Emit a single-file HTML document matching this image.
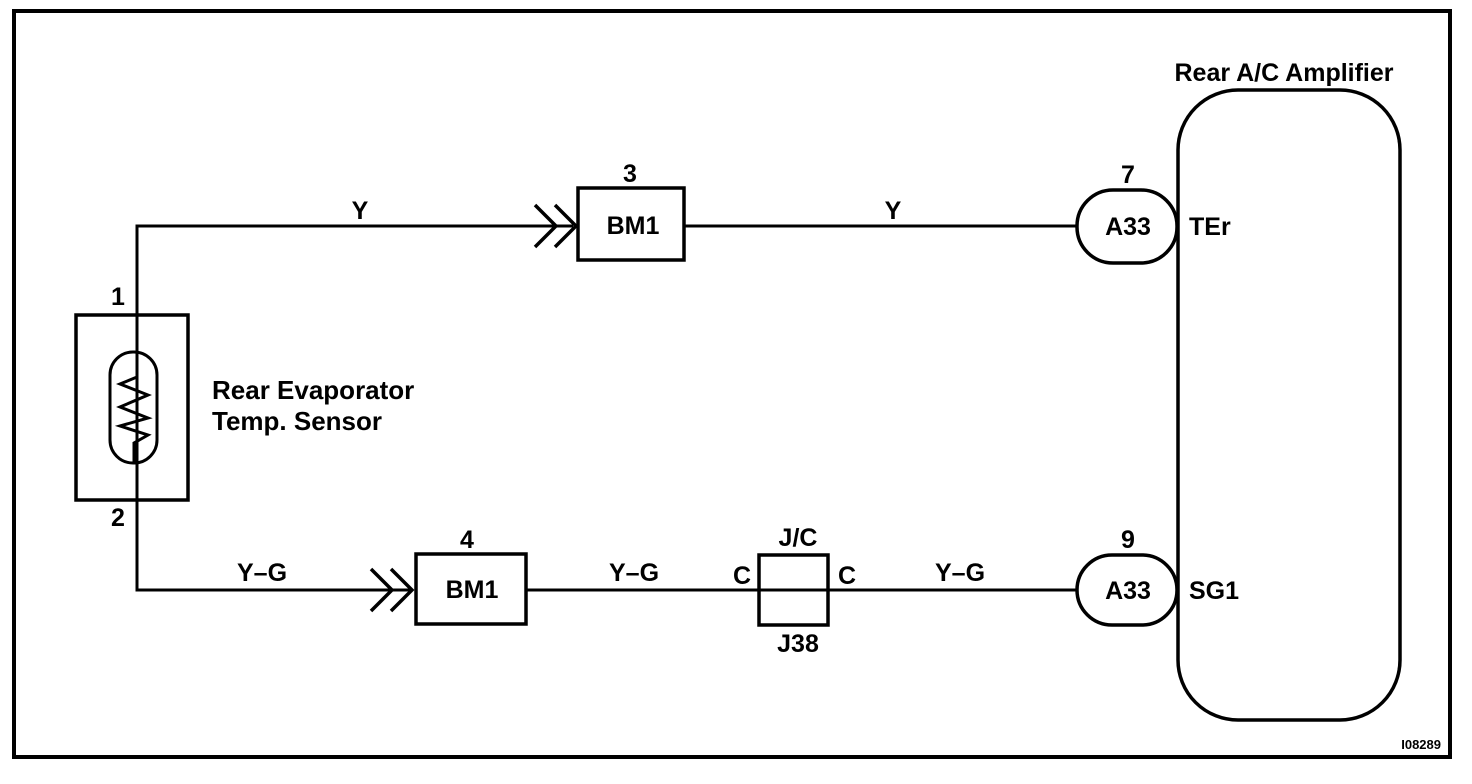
<!DOCTYPE html>
<html><head><style>
html,body{margin:0;padding:0;background:#fff;width:1472px;height:784px;overflow:hidden}
text{font-family:"Liberation Sans",Arial,sans-serif;font-weight:bold;fill:#000}
</style></head><body>
<svg width="1472" height="784" viewBox="0 0 1472 784" xmlns="http://www.w3.org/2000/svg">
<rect x="14" y="11" width="1436" height="746" fill="none" stroke="#000" stroke-width="4"/>
<g fill="none" stroke="#000" stroke-width="3">
<line x1="684" y1="226" x2="1077" y2="226"/>
<line x1="526" y1="590" x2="1077" y2="590"/>
<polyline points="573,226 137,226 137,590 410,590"/>
<g stroke-width="3.5">
<polyline points="535,205 556,226 535,247"/>
<polyline points="555,205 576,226 555,247"/>
<polyline points="371,569 392,590 371,611"/>
<polyline points="391,569 412,590 391,611"/>
</g>
<rect x="76" y="315" width="112" height="185" stroke-width="3.5"/>
<rect x="110" y="352" width="47" height="111" rx="23"/>
<polyline points="137,352 137,377 120,384 148,395 120,407 148,418 120,426 148,435 134,443 134,463"/>
<rect x="578" y="188" width="106" height="72" stroke-width="3.5"/>
<rect x="416" y="554" width="110" height="70" stroke-width="3.5"/>
<rect x="759" y="555" width="69" height="70" stroke-width="3.5"/>
<rect x="1077" y="190" width="100" height="73" rx="36" stroke-width="3.5"/>
<rect x="1077" y="555" width="100" height="70" rx="35" stroke-width="3.5"/>
<rect x="1178" y="90" width="222" height="630" rx="60" stroke-width="3.5"/>
</g>
<g font-size="25">
<text x="118" y="305" text-anchor="middle">1</text>
<text x="118" y="526" text-anchor="middle">2</text>
<text x="212" y="399" font-size="26">Rear Evaporator</text>
<text x="212" y="430" font-size="26">Temp. Sensor</text>
<text x="360" y="219" text-anchor="middle">Y</text>
<text x="893" y="219" text-anchor="middle">Y</text>
<text x="630" y="182" text-anchor="middle">3</text>
<text x="633" y="234" text-anchor="middle">BM1</text>
<text x="467" y="548" text-anchor="middle">4</text>
<text x="472" y="598" text-anchor="middle">BM1</text>
<text x="262" y="581" text-anchor="middle">Y–G</text>
<text x="634" y="581" text-anchor="middle">Y–G</text>
<text x="960" y="581" text-anchor="middle">Y–G</text>
<text x="798" y="546" text-anchor="middle">J/C</text>
<text x="798" y="652" text-anchor="middle">J38</text>
<text x="742" y="584" text-anchor="middle">C</text>
<text x="847" y="584" text-anchor="middle">C</text>
<text x="1128" y="183" text-anchor="middle">7</text>
<text x="1128" y="235" text-anchor="middle">A33</text>
<text x="1128" y="548" text-anchor="middle">9</text>
<text x="1128" y="599" text-anchor="middle">A33</text>
<text x="1189" y="235">TEr</text>
<text x="1189" y="599">SG1</text>
<text x="1284" y="81" text-anchor="middle">Rear A/C Amplifier</text>
</g>
<text x="1441" y="749" font-size="13" text-anchor="end">I08289</text>
</svg>
</body></html>
